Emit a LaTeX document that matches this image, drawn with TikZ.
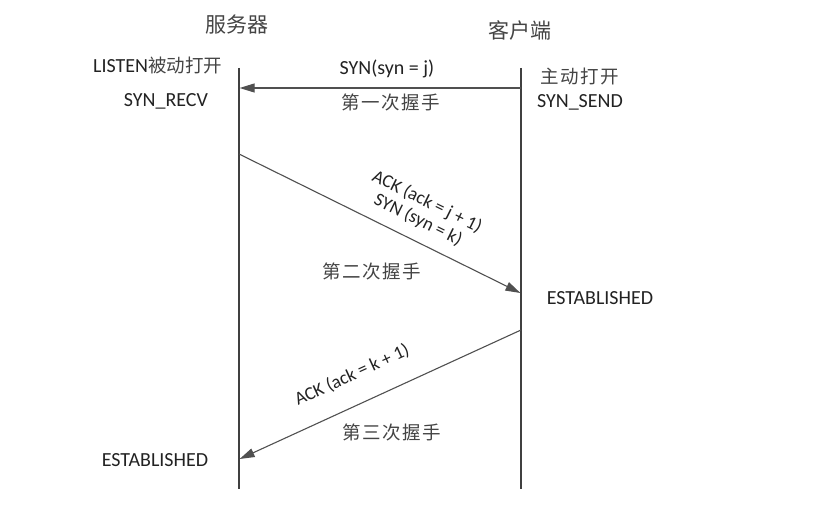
\documentclass[tikz,border=0pt]{standalone}
\usepackage{fontspec}
\setmainfont{Carlito}
\newfontfamily\cjk{Noto Sans CJK SC}
\usetikzlibrary{arrows.meta}
\definecolor{txt}{HTML}{222222}
\definecolor{cjkgray}{HTML}{444444}
\definecolor{lineclr}{HTML}{404040}
\definecolor{arrclr}{HTML}{505050}
\begin{document}
\begin{tikzpicture}[x=1bp,y=-1bp,
  lab/.style={text=txt, inner sep=0pt, font=\fontsize{20bp}{23bp}\selectfont},
  rotlab/.style={text=txt, inner sep=0pt, font=\fontsize{18.5bp}{21bp}\selectfont},
  cjklab/.style={text=cjkgray, inner sep=0pt, font=\fontsize{18.5bp}{21bp}\selectfont\cjk\addfontfeatures{LetterSpace=8}},
  titlelab/.style={text=cjkgray, inner sep=0pt, font=\fontsize{21bp}{24bp}\selectfont\cjk},
  lifeline/.style={draw=lineclr, line width=1.3bp},
  msg/.style={draw=arrclr, line width=1.1bp, -{Triangle[length=15bp,width=9bp]}}]
\useasboundingbox (0,0) rectangle (830,520);

% lifelines
\coordinate (stop) at (239,68);
\coordinate (sbot) at (239,489);
\coordinate (ctop) at (521,68);
\coordinate (cbot) at (521,489);
\draw[lifeline] (stop) -- (sbot);
\draw[lifeline] (ctop) -- (cbot);

% message end points
\coordinate (m1c) at (521,88);
\coordinate (m1s) at (239.6,88);
\coordinate (m2s) at (239,154);
\coordinate (m2c) at (520.4,293);
\coordinate (m3c) at (521,330);
\coordinate (m3s) at (239.6,459);
\draw[msg] (m1c) -- (m1s);
\draw[msg] (m2s) -- (m2c);
\draw[msg] (m3c) -- (m3s);

% titles
\node[titlelab] (srv) at (237,25) {服务器};
\node[titlelab] (cli) at (520,30) {客户端};

% left labels
\node[lab, anchor=west] (listen) at (93,66) {LISTEN{\cjk\fontsize{18.5bp}{21bp}\selectfont\color{cjkgray}被动打开}};
\node[lab] (recv) at (166,101) {SYN\_RECV};
\node[lab] (est2) at (155,460) {ESTABLISHED};

% right labels
\node[cjklab] (act) at (580,77) {主动打开};
\node[lab] (send) at (580,102) {SYN\_SEND};
\node[lab] (est1) at (600,298) {ESTABLISHED};

% message labels
\node[lab] (synj) at (387,69) {SYN(syn = j)};
\node[cjklab] (h1) at (391,102) {第一次握手};
\node[rotlab, rotate=-26.2] (ack1) at (427,202) {ACK (ack = j + 1)};
\node[rotlab, rotate=-26.2] (syn2) at (418,220) {SYN (syn = k)};
\node[cjklab] (h2) at (372,271) {第二次握手};
\node[rotlab, rotate=24.6] (ack2) at (352,375) {ACK (ack = k + 1)};
\node[cjklab] (h3) at (392,432) {第三次握手};
\end{tikzpicture}
\end{document}
